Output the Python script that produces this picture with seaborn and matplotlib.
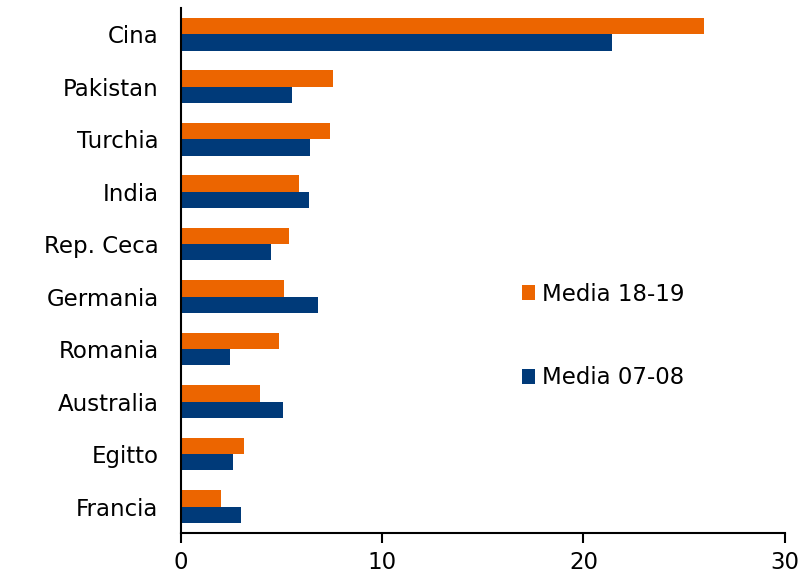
import pandas as pd
import matplotlib.pyplot as plt
import seaborn as sns

paesi = ["Cina", "Pakistan", "Turchia", "India", "Rep. Ceca",
         "Germania", "Romania", "Australia", "Egitto", "Francia"]
media_18_19 = [26.0, 7.55, 7.4, 5.85, 5.35, 5.15, 4.9, 3.95, 3.15, 2.0]
media_07_08 = [21.4, 5.5, 6.4, 6.35, 4.5, 6.8, 2.45, 5.1, 2.6, 3.0]
serie = ["Media 18-19", "Media 07-08"]
colori = ["#EC6500", "#003A79"]

df = pd.DataFrame({
    "paese": paesi * 2,
    "valore": media_18_19 + media_07_08,
    "serie": [serie[0]] * len(paesi) + [serie[1]] * len(paesi),
})

sns.set_style("white")
plt.rcParams["font.family"] = ["DejaVu Sans"]
plt.rcParams["text.color"] = "black"
plt.rcParams["xtick.color"] = "black"
plt.rcParams["ytick.color"] = "black"

fig, ax = plt.subplots(figsize=(8, 5.73), dpi=100)
fig.subplots_adjust(left=0.226, right=0.981, bottom=0.070, top=0.986)

sns.barplot(data=df, x="valore", y="paese", hue="serie", order=paesi,
            hue_order=serie, palette=colori, orient="h", width=0.62,
            gap=0, saturation=1, linewidth=0, ax=ax)

ax.set_xlim(0, 30)
ax.set_xticks([0, 10, 20, 30])
ax.set_ylim(len(paesi) - 0.5, -0.5)
ax.set_xlabel("")
ax.set_ylabel("")
ax.tick_params(axis="x", labelsize=16.5, length=7, width=1.5, color="black",
               labelcolor="black", direction="out", bottom=True, pad=6)
ax.tick_params(axis="y", labelsize=16.5, length=0, pad=16, labelcolor="black")
for s in ["top", "right"]:
    ax.spines[s].set_visible(False)
for s in ["left", "bottom"]:
    ax.spines[s].set_color("black")
    ax.spines[s].set_linewidth(1.5)

ax.legend(loc="center left", bbox_to_anchor=(0.53, 0.375), frameon=False,
          fontsize=16.5, handlelength=0.6, handleheight=0.6, handletextpad=0.3,
          labelspacing=2.65)

fig.savefig("out.png", dpi=100)
